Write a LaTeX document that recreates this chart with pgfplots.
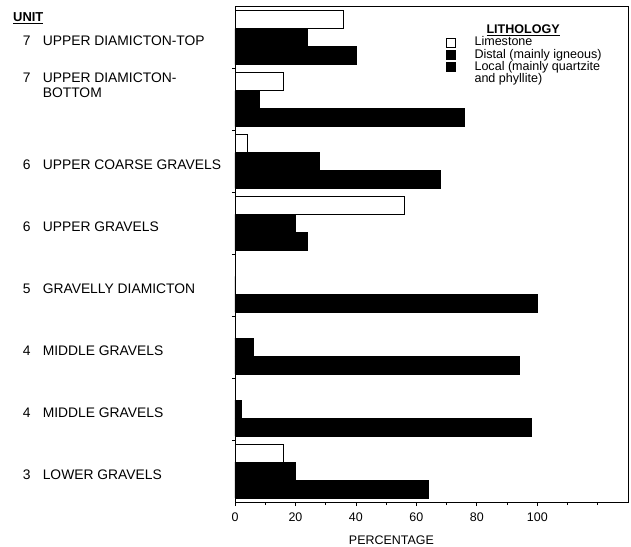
\documentclass[border=0pt]{standalone}
\usepackage{pgfplots}
\usepackage{pgfplotstable}
\pgfplotsset{compat=1.18}
\usepackage{fontspec}
\setmainfont{Liberation Sans}
\newcommand\lab[3][-6bp]{\raisebox{#1}[0pt][0pt]{\parbox[c]{208bp}{\fontsize{13.9}{15}\selectfont\makebox[20bp][l]{#2}#3}}}
\pgfplotstableread{
g lime distal local
1 36 24 40
2 16 8 76
3 4 28 68
4 56 20 24
5 0 0 100
6 0 6 94
7 0 2 98
8 16 20 64
}\datatable
\begin{document}
\begin{tikzpicture}
\begin{axis}[
  name=ax,
  scale only axis, width=393bp, height=495.3bp,
  xmin=0, xmax=130, ymin=0.5, ymax=8.5, y dir=reverse,
  axis line style={line width=0.9bp},
  xtick={0,20,...,100}, minor xtick={10,30,50,70,90,110,120},
  ytick={1,...,8}, minor ytick={1.5,2.5,...,7.5},
  every major y tick/.append style={draw=none},
  major tick length=4bp, minor tick length=3bp,
  tick align=outside, xtick pos=bottom, ytick pos=left,
  tick style={black, line width=0.8bp},
  /pgf/number format/assume math mode=true,
  xticklabel style={font=\fontsize{12.5}{14}\selectfont, yshift=-3bp},
  yticklabel style={anchor=east, inner sep=0pt},
  yticklabels={
    {\lab{7}{UPPER DIAMICTON-TOP}},
    {\lab[11.5bp]{7}{UPPER DIAMICTON-\\\hspace*{20bp}BOTTOM}},
    {\lab{6}{UPPER COARSE GRAVELS}},
    {\lab{6}{UPPER GRAVELS}},
    {\lab{5}{GRAVELLY DIAMICTON}},
    {\lab{4}{MIDDLE GRAVELS}},
    {\lab{4}{MIDDLE GRAVELS}},
    {\lab{3}{LOWER GRAVELS}}},
  xlabel={PERCENTAGE},
  xlabel style={at={(axis description cs:0.398,0)}, anchor=center, yshift=-38bp, font=\fontsize{12.5}{14}\selectfont},
  legend style={draw=none, fill=none, inner sep=0pt, outer sep=0pt, row sep=0pt, column sep=18.5bp,
    at={(axis description cs:0.537,0.964)}, anchor=north west,
    nodes={inner sep=0pt, text height=9.2bp, text depth=3bp, anchor=west},
    font=\fontsize{12.6}{14}\selectfont},
  legend cell align=left,
]
\addlegendimage{empty legend}
\addlegendentry{\hspace*{12bp}\underline{\bfseries LITHOLOGY}}
\addplot[xbar, bar width=0.29, bar shift=-0.29, fill=white, draw=black, line width=0.8bp,
  legend image code/.code={\draw[black, fill=white, line width=1bp] (0bp,-4.5bp) rectangle (9bp,4.5bp);}]
  table[x=lime, y=g] {\datatable};
\addlegendentry{Limestone}
\addplot[xbar, bar width=0.29, bar shift=0, fill=black, draw=black, line width=0.8bp,
  legend image code/.code={\fill[black] (0bp,-4.5bp) rectangle (9bp,4.5bp);}]
  table[x=distal, y=g] {\datatable};
\addlegendentry{Distal (mainly igneous)}
\addplot[xbar, bar width=0.29, bar shift=0.29, fill=black, draw=black, line width=0.8bp,
  legend image code/.code={\fill[black] (0bp,-4.5bp) rectangle (9bp,4.5bp);}]
  table[x=local, y=g] {\datatable};
\addlegendentry{Local (mainly quartzite}
\addlegendimage{empty legend}
\addlegendentry{and phyllite)}
\end{axis}
\draw[line width=1bp] (ax.south east) -- (ax.north east);
\node[anchor=base west, font=\fontsize{13}{15}\selectfont\bfseries, inner sep=0pt] at ([shift={(-222bp,-14.5bp)}]ax.north west) {\underline{UNIT}};
\pgfresetboundingbox
\path[use as bounding box] ([shift={(-235bp,-45bp)}]ax.south west) rectangle ([shift={(3bp,6.7bp)}]ax.north east);
\end{tikzpicture}
\end{document}
